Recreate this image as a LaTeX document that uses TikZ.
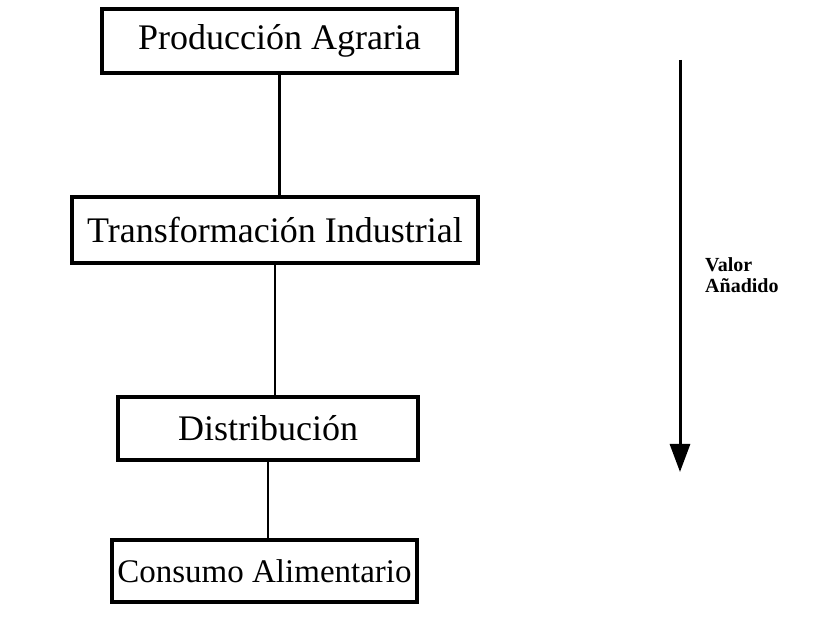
\documentclass[tikz,border=0pt]{standalone}
\usepackage{fontspec}
\setmainfont{Liberation Serif}
\usetikzlibrary{shadows,arrows.meta}
\begin{document}
\begin{tikzpicture}[x=1pt,y=1pt,
  stagebox/.style={draw=black, line width=3.4pt, fill=white, inner sep=0pt,
    font=\fontsize{36}{40}\selectfont,
    drop shadow={shadow xshift=2.4pt, shadow yshift=-2.4pt, fill=black, opacity=1}},
  link/.style={draw=black, line width=2.4pt},
  valarrow/.style={draw=black, line width=3pt, -{Triangle[length=28pt,width=20pt]}},
  lbl/.style={font=\bfseries\fontsize{20}{21}\selectfont, align=left, anchor=west, inner sep=0pt}
]
\useasboundingbox (0,0) rectangle (817,618);
\node[stagebox, minimum width=355pt, minimum height=64pt] (b1) at (279.5,577) {Producción Agraria};
\node[stagebox, minimum width=406pt, minimum height=66pt] (b2) at (275,388) {Transformación Industrial};
\node[stagebox, minimum width=300pt, minimum height=63pt] (b3) at (268,189.5) {Distribución};
\node[stagebox, minimum width=305pt, minimum height=62pt, font=\fontsize{33}{38}\selectfont] (b4) at (264.5,47) {Consumo Alimentario};
\draw[link] (b1.south) -- (b1.south |- b2.north);
\draw[link] (b2.south) -- (b2.south |- b3.north);
\draw[link] (b3.south) -- (b3.south |- b4.north);
\coordinate (atop) at (680,558);
\coordinate (abot) at (680,146);
\draw[valarrow] (atop) -- (abot);
\node[lbl] (val) at (705,343) {Valor\\Añadido};
\end{tikzpicture}
\end{document}
